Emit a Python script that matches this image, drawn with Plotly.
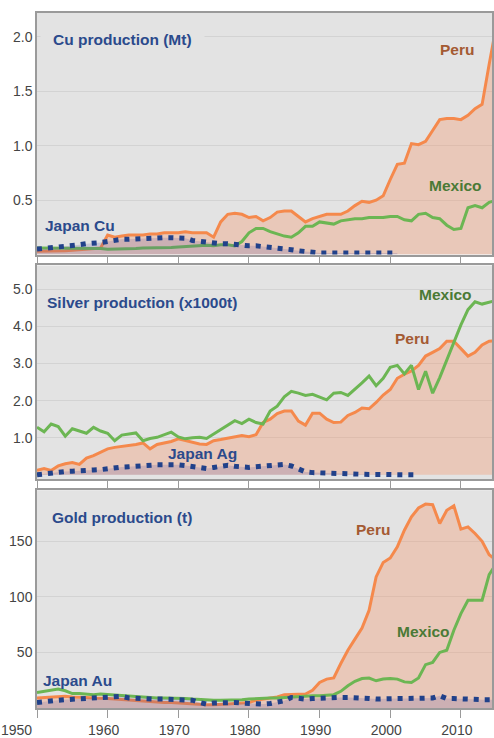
import plotly.graph_objects as go

years = list(range(1950, 2016))

# ---- Copper (Mt) ----
peru_cu = [0.03, 0.03, 0.03, 0.03, 0.035, 0.04, 0.045, 0.05, 0.05, 0.06,
           0.18, 0.16, 0.17, 0.18, 0.18, 0.18, 0.19, 0.19, 0.2, 0.2,
           0.2, 0.21, 0.2, 0.2, 0.2, 0.16, 0.3, 0.37, 0.38, 0.37,
           0.34, 0.35, 0.31, 0.34, 0.39, 0.40, 0.40, 0.35, 0.30, 0.33,
           0.35, 0.37, 0.37, 0.37, 0.40, 0.45, 0.49, 0.48, 0.50, 0.54,
           0.69, 0.83, 0.84, 1.02, 1.01, 1.04, 1.14, 1.24, 1.25, 1.25,
           1.24, 1.28, 1.34, 1.38, 1.75, 2.1]
mexico_cu = [0.06, 0.06, 0.06, 0.06, 0.055, 0.055, 0.055, 0.06, 0.06, 0.055,
             0.05, 0.05, 0.05, 0.055, 0.055, 0.06, 0.06, 0.06, 0.065, 0.065,
             0.07, 0.075, 0.08, 0.08, 0.085, 0.08, 0.09, 0.09, 0.08, 0.12,
             0.2, 0.24, 0.24, 0.21, 0.19, 0.17, 0.16, 0.2, 0.26, 0.26,
             0.3, 0.29, 0.28, 0.31, 0.32, 0.33, 0.33, 0.34, 0.34, 0.34,
             0.35, 0.35, 0.32, 0.31, 0.37, 0.38, 0.34, 0.33, 0.27, 0.23,
             0.24, 0.43, 0.45, 0.43, 0.48, 0.5]
japan_cu = [0.05, 0.055, 0.06, 0.07, 0.075, 0.08, 0.09, 0.1, 0.1, 0.11,
            0.12, 0.135, 0.14, 0.14, 0.145, 0.15, 0.15, 0.15, 0.155, 0.155,
            0.155, 0.15, 0.13, 0.12, 0.11, 0.11, 0.1, 0.1, 0.09, 0.085,
            0.08, 0.08, 0.075, 0.07, 0.065, 0.06, 0.045, 0.035, 0.025, 0.02,
            0.015, 0.015, 0.015, 0.015, 0.015, 0.015, 0.015, 0.015, 0.015, 0.015,
            0.015, 0.015]

# ---- Silver (x1000 t) ----
peru_ag = [0.12, 0.17, 0.12, 0.24, 0.3, 0.33, 0.28, 0.45, 0.52, 0.6,
           0.7, 0.74, 0.76, 0.79, 0.82, 0.86, 0.7, 0.82, 0.86, 0.9,
           0.97, 0.93, 0.88, 0.83, 0.82, 0.92, 0.95, 0.98, 1.02, 1.06,
           1.03, 1.08, 1.41, 1.5, 1.65, 1.72, 1.72, 1.45, 1.34, 1.66,
           1.66, 1.5, 1.41, 1.42, 1.6, 1.68, 1.8, 1.78, 1.95, 2.15,
           2.3, 2.6, 2.71, 2.8, 2.95, 3.2, 3.3, 3.4, 3.6, 3.6,
           3.4, 3.2, 3.3, 3.5, 3.6, 3.62]
mexico_ag = [1.28, 1.16, 1.37, 1.3, 1.04, 1.24, 1.18, 1.12, 1.28, 1.18,
             1.12, 0.92, 1.07, 1.1, 1.13, 0.92, 0.98, 1.01, 1.08, 1.15,
             1.02, 0.97, 1.0, 1.01, 0.98, 1.1, 1.24, 1.35, 1.46, 1.38,
             1.5, 1.41, 1.37, 1.72, 1.85, 2.1, 2.25, 2.2, 2.14, 2.17,
             2.1, 2.02, 2.2, 2.22, 2.14, 2.3, 2.48, 2.66, 2.4, 2.6,
             2.9, 2.95, 2.72, 2.95, 2.3, 2.79, 2.2, 2.62, 3.1, 3.55,
             4.04, 4.45, 4.66, 4.6, 4.66, 4.7]
japan_ag = [0.0, 0.03, 0.05, 0.07, 0.09, 0.1, 0.12, 0.12, 0.13, 0.14,
            0.17, 0.2, 0.21, 0.22, 0.24, 0.26, 0.27, 0.27, 0.27, 0.28,
            0.27, 0.25, 0.22, 0.18, 0.17, 0.2, 0.24, 0.26, 0.23, 0.21,
            0.2, 0.22, 0.23, 0.24, 0.26, 0.28, 0.24, 0.15, 0.08, 0.06,
            0.05, 0.04, 0.03, 0.02, 0.01, 0.01, 0.01, 0.01, 0.01, 0.01,
            0.01, 0.01, 0.0, 0.0, 0.0]

# ---- Gold (t) ----
peru_au = [9, 9.5, 10, 10, 10.5, 10, 10, 9.5, 9, 9,
           8.5, 8, 7.5, 7, 6.5, 6, 6, 5.5, 5, 5,
           4.5, 4, 4, 3.5, 3, 3, 3, 3.5, 4, 4.5,
           5, 7, 8, 9, 10, 12, 12, 12, 12.5, 16,
           23, 26, 27, 40, 52, 62, 72, 88, 118, 131,
           135, 145, 160, 172, 180, 183.5, 183, 166, 178, 182,
           161, 163, 157, 150, 138, 133]
mexico_au = [14, 15, 16, 17, 15.5, 13, 13, 12.5, 12, 12.5,
             12, 11.5, 11, 10.5, 10, 10, 9.5, 9, 9, 9,
             9, 8.5, 8, 7.5, 7, 7, 7, 7, 7, 7.5,
             8, 8.5, 9, 9, 9, 9.5, 10, 10, 10.5, 11,
             11, 11.5, 12, 15, 20, 24, 26.5, 27, 24.5, 26,
             26.5, 26, 23.5, 23, 27, 39, 41, 50, 52, 70,
             85, 97, 97, 97, 120, 130]
japan_au = [5, 6, 6.5, 7, 7.5, 8, 8.5, 9, 9, 9,
            9.5, 10, 10.5, 9, 8.5, 8.5, 8, 8, 8, 8,
            8, 7.5, 7, 5, 3.5, 4.5, 5, 5, 5, 4.5,
            4, 3.5, 3.5, 4, 5, 6.5, 9.5, 8.5, 8, 8.5,
            9, 9, 9.5, 9.5, 9.5, 9.5, 9, 8.5, 8, 8.5,
            8.5, 8.5, 8.5, 8.5, 8.5, 8, 9, 11, 8.5, 8.5,
            8, 8.5, 8, 7.5, 7.5, 7.5]

x_ticks = [1950, 1960, 1970, 1980, 1990, 2000, 2010]
x_ticktext = ["", "1960", "1970", "1980", "1990", "2000", "2010"]
cu_ticks = [0.5, 1.0, 1.5, 2.0]
ag_ticks = [1, 2, 3, 4, 5]
au_ticks = [50, 100, 150]

PERU_LINE = "#f5894c"
PERU_FILL = "rgba(250,140,90,0.30)"
MEX_LINE = "#6cb653"
JP_LINE = "#21418a"
JP_FILL = "rgba(90,80,160,0.20)"
BG = "#e3e3e3"
GRID = "#d3d3d3"
FONT = "Liberation Sans"

fig = go.Figure()

panels = [
    ("x", "y", peru_cu, mexico_cu, japan_cu),
    ("x2", "y2", peru_ag, mexico_ag, japan_ag),
    ("x3", "y3", peru_au, mexico_au, japan_au),
]
for xa, ya, pe, mx, jp in panels:
    fig.add_trace(go.Scatter(x=years[:len(pe)], y=pe, xaxis=xa, yaxis=ya, mode="lines",
                             line=dict(color=PERU_LINE, width=3), fill="tozeroy",
                             fillcolor=PERU_FILL, showlegend=False, hoverinfo="skip"))
    fig.add_trace(go.Scatter(x=years[:len(mx)], y=mx, xaxis=xa, yaxis=ya, mode="lines",
                             line=dict(color=MEX_LINE, width=3),
                             showlegend=False, hoverinfo="skip"))
    fig.add_trace(go.Scatter(x=years[:len(jp)], y=jp, xaxis=xa, yaxis=ya, mode="lines",
                             line=dict(color=JP_LINE, width=5, dash="5px,6px"),
                             fill="tozeroy", fillcolor=JP_FILL,
                             showlegend=False, hoverinfo="skip"))

axis_common = dict(showline=True, linecolor="#9a9a9a", linewidth=1.5, mirror=True,
                   zeroline=False)
xcommon = dict(range=[1950, 2014.4], tickvals=x_ticks, ticktext=x_ticktext,
               ticks="outside", ticklen=8, tickcolor="#9a9a9a", showgrid=False,
               tickfont=dict(family=FONT, size=14, color="#444"), **axis_common)
ycommon = dict(showgrid=True, gridcolor=GRID, gridwidth=1, ticks="",
               tickfont=dict(family=FONT, size=14, color="#444"), **axis_common)

H = 702.0
fig.update_layout(
    width=494, height=738,
    margin=dict(l=37, r=0, t=13, b=23),
    paper_bgcolor="white",
    plot_bgcolor=BG,
    xaxis=dict(anchor="y", showticklabels=False, **xcommon),
    xaxis2=dict(anchor="y2", showticklabels=False, **xcommon),
    xaxis3=dict(anchor="y3", showticklabels=True, ticklabelshift=-4, **xcommon),
    yaxis=dict(domain=[458 / H, 1.0], range=[0, 2.22], tickvals=cu_ticks,
               tickformat=".1f", **ycommon),
    yaxis2=dict(domain=[231 / H, 447 / H], range=[-0.12, 5.64], tickvals=ag_ticks,
                tickformat=".1f", **ycommon),
    yaxis3=dict(domain=[0, 220 / H], range=[0, 196], tickvals=au_ticks, **ycommon),
)


def px(xp):
    return (xp - 37) / 457.0


def py(yp):
    return (715 - yp) / H


labels = [
    ("Cu production (Mt)", 123, 40, "#2b4a8c", True),
    ("Peru", 459, 50, "#a45a32", False),
    ("Mexico", 457, 187, "#4a7a36", False),
    ("Japan Cu", 80, 228, "#2b4a8c", False),
    ("Silver production (x1000t)", 142, 305, "#2b4a8c", False),
    ("Mexico", 447, 297, "#4a7a36", False),
    ("Peru", 414, 342, "#a45a32", False),
    ("Japan Ag", 203, 458, "#2b4a8c", False),
    ("Gold production (t)", 122, 523, "#2b4a8c", False),
    ("Peru", 374, 535, "#a45a32", False),
    ("Mexico", 425, 638, "#4a7a36", False),
    ("Japan Au", 78, 687, "#2b4a8c", False),
]
for text, xp, yp, col, boxed in labels:
    ann = dict(text=text, x=px(xp), y=py(yp), xref="paper", yref="paper",
               xanchor="center", yanchor="middle", showarrow=False,
               font=dict(family=FONT, size=15.5, color=col, weight="bold"))
    if boxed:
        ann.update(bgcolor=BG, borderpad=12)
    fig.add_annotation(**ann)

# first x tick label sits left of the axis
fig.add_annotation(text="1950", x=1950, y=py(737), xref="x3", yref="paper",
                   xanchor="right", yanchor="middle", xshift=-3,
                   showarrow=False, font=dict(family=FONT, size=14, color="#444"))

fig.write_html("out.html")
